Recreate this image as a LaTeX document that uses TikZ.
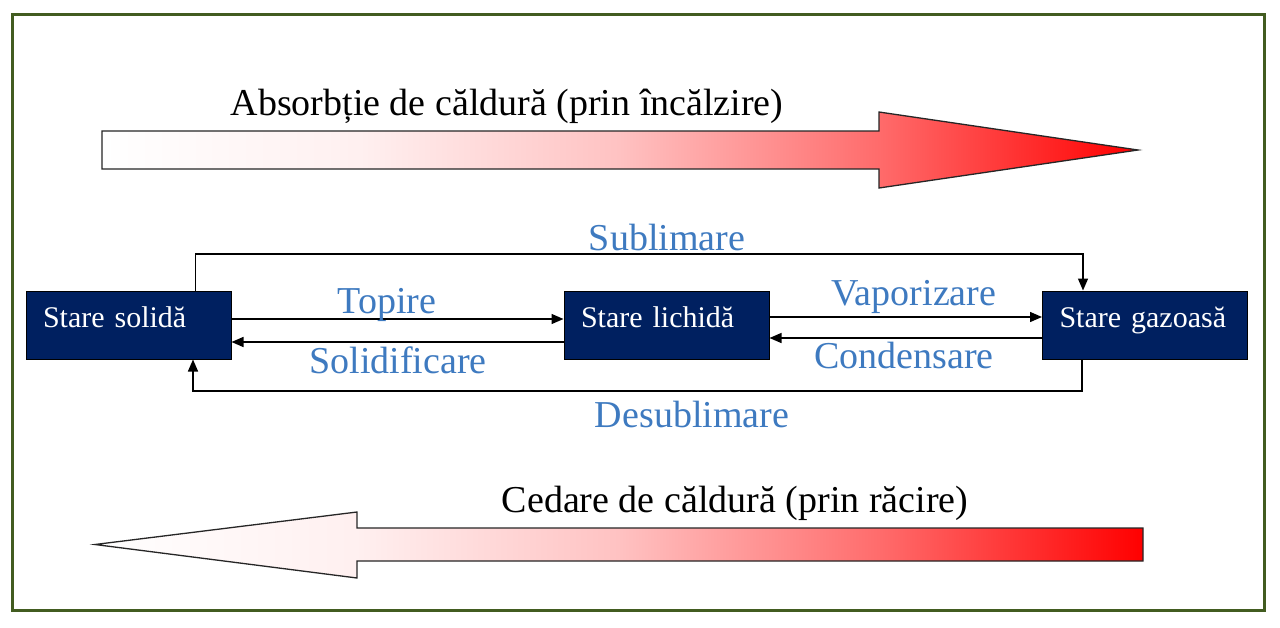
\documentclass[tikz,border=0pt]{standalone}
\usepackage{fontspec}
\setmainfont{Liberation Serif}
\usetikzlibrary{arrows.meta}
\definecolor{navybox}{RGB}{0,32,96}
\definecolor{lblue}{RGB}{62,122,192}
\definecolor{framegreen}{RGB}{66,92,32}
\newcommand{\myboxfont}{\fontsize{30}{32}\selectfont\spaceskip 5pt\relax}
\pgfdeclarehorizontalshading{heatsh}{100bp}{color(0bp)=(white); color(25bp)=(white); color(37.5bp)=(red!6); color(50bp)=(red!24); color(62.5bp)=(red!58); color(75bp)=(red); color(100bp)=(red)}
\begin{document}
\begin{tikzpicture}[x=1pt,y=-1pt,
  statebox/.style={fill=navybox, draw=black, line width=1pt, minimum width=205pt, minimum height=68pt,
    inner xsep=17pt, inner ysep=0pt, text width=171pt, align=left, text=white,
    font=\myboxfont, text height=12pt, text depth=8pt},
  conn/.style={line width=1.4pt, -{Triangle[length=12pt,width=10pt]}},
  lbl/.style={text=lblue, font=\fontsize{38}{40}\selectfont, anchor=base, inner sep=0pt},
  title/.style={text=black, font=\fontsize{38}{40}\selectfont, anchor=base, inner sep=0pt},
  heat/.style={draw=black!85, line width=1.3pt, shading=heatsh, line join=miter}
]
\useasboundingbox (0,0) rectangle (1280,627);
\fill[white] (0,0) rectangle (1280,627);
\draw[framegreen, line width=3pt] (12,14) rectangle (1264,610);

% heat arrows
\path[heat] (102,131) -- (879,131) -- (879,112) -- (1138,150) -- (879,188) -- (879,169) -- (102,169) -- cycle;
\path[heat] (1143,528) -- (357,528) -- (357,512) -- (95,544.5) -- (357,578) -- (357,561) -- (1143,561) -- cycle;

\node[title] (tabs) at (507,115) {Absorbție de căldură (prin încălzire)};
\node[title] (tced) at (735,512) {Cedare de căldură (prin răcire)};

% states
\node[statebox] (solid) at (128.5,325) {Stare solidă};
\node[statebox] (liquid) at (666.5,325) {Stare lichidă};
\node[statebox] (gas) at (1145,325) {Stare gazoasă};

% transitions
\draw[conn] ([yshift=6pt]solid.east) -- ([yshift=6pt]liquid.west);
\draw[conn] ([yshift=-17pt]liquid.west) -- ([yshift=-17pt]solid.east);
\draw[conn] ([yshift=8pt]liquid.east) -- ([yshift=8pt]gas.west);
\draw[conn] ([yshift=-13pt]gas.west) -- ([yshift=-13pt]liquid.east);

\coordinate (subA) at ([xshift=67pt]solid.north);
\coordinate (subB) at ([xshift=-62pt]gas.north);
\draw[conn] (subA) -- (subA |- 0,254) -| (subB);
\coordinate (desA) at ([xshift=-63pt]gas.south);
\coordinate (desB) at ([xshift=64.5pt]solid.south);
\draw[conn] (desA) -- (desA |- 0,391) -| (desB);

% labels
\node[lbl] (lsub) at (667,250) {Sublimare};
\node[lbl] (ltop) at (387,313) {Topire};
\node[lbl] (lsol) at (398,373) {Solidificare};
\node[lbl] (lvap) at (914,305) {Vaporizare};
\node[lbl] (lcon) at (904,368) {Condensare};
\node[lbl] (ldes) at (692,427) {Desublimare};
\end{tikzpicture}
\end{document}
